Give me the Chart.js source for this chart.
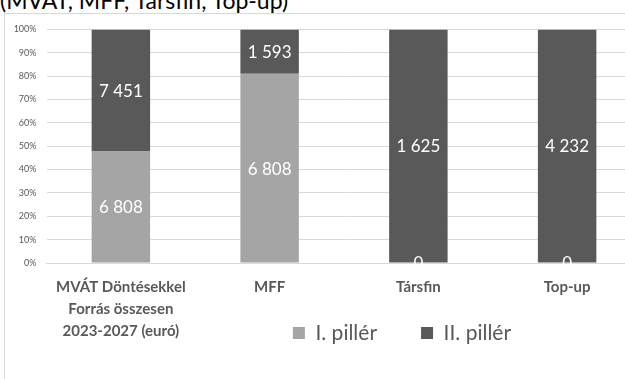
<!DOCTYPE html>
<html>
<head>
<meta charset="utf-8">
<script src="https://cdn.jsdelivr.net/npm/chart.js@4.4.0/dist/chart.umd.min.js"></script>
<style>
  html, body { margin: 0; padding: 0; background: #fff; overflow: hidden; width: 625px; height: 379px; }
  #title { position: absolute; left: 0; top: -11px; font: 23px Lato; line-height: 23px; color: #000; white-space: nowrap; }
  #frame { position: absolute; left: 4px; top: 13px; width: 700px; height: 430px; border-left: 1px solid #d9d9d9; border-top: 1px solid #d9d9d9; }
  #wrap { position: absolute; left: 0; top: 14px; width: 660px; height: 430px; }
</style>
</head>
<body>
<div id="title">(MVÁT, MFF, Társfin, Top-up)</div>
<div id="frame"></div>
<div id="wrap"><canvas id="chart" width="660" height="430"></canvas></div>
<script>
// categories and the two pillar amounts (euro)
const categories = [["MVÁT Döntésekkel", "Forrás összesen", "2023-2027 (euró)"], "MFF", "Társfin", "Top-up"];
const pillar1 = [6808, 6808, 0, 0];
const pillar2 = [7451, 1593, 1625, 4232];
const seriesNames = ["I. pillér", "II. pillér"];
const seriesColors = ["#a5a5a5", "#595959"];

// 100% stacked: convert amounts to shares of each column
const totals = pillar1.map(function (v, i) { return v + pillar2[i]; });
function toShare(arr) {
  return arr.map(function (v, i) { return totals[i] ? (v / totals[i]) * 100 : 0; });
}

function fmt(v) {
  return String(v).replace(/\B(?=(\d{3})+(?!\d))/g, " ");
}

// white value labels in the middle of every segment
const barLabels = {
  id: "barLabels",
  afterDatasetsDraw(chart) {
    const ctx = chart.ctx;
    ctx.save();
    ctx.font = "17px Lato";
    ctx.fillStyle = "#ffffff";
    ctx.textAlign = "center";
    ctx.textBaseline = "middle";
    chart.data.datasets.forEach(function (ds, di) {
      chart.getDatasetMeta(di).data.forEach(function (bar, i) {
        ctx.fillText(fmt(ds.raw[i]), bar.x, (bar.y + bar.base) / 2 + 1);
      });
    });
    ctx.restore();
  }
};

// legend sits beside the last line of the first category label
const legendSpot = {
  id: "legendSpot",
  afterLayout(chart) {
    const lg = chart.legend;
    const pad = lg.options.labels.padding;
    const size = lg.options.labels.font.size;
    const h = lg.height;
    lg.top = 319 - pad - size / 2;
    lg.bottom = lg.top + h;
    const d = 402 - (lg.left + lg.right) / 2;
    lg.left += d;
    lg.right += d;
  }
};

new Chart(document.getElementById("chart"), {
  type: "bar",
  data: {
    labels: categories,
    datasets: [
      { label: seriesNames[0], data: toShare(pillar1), raw: pillar1, backgroundColor: seriesColors[0] },
      { label: seriesNames[1], data: toShare(pillar2), raw: pillar2, backgroundColor: seriesColors[1] }
    ]
  },
  options: {
    responsive: false,
    animation: false,
    barPercentage: 1,
    categoryPercentage: 0.393,
    layout: { padding: { top: 12, right: 18.5, left: 0, bottom: 0 } },
    scales: {
      x: {
        stacked: true,
        grid: { display: false },
        border: { color: "#d9d9d9" },
        ticks: {
          color: "#595959",
          font: { family: "Lato", size: 15, weight: "bold", lineHeight: 1.47 },
          padding: 5,
          maxRotation: 0,
          autoSkip: false
        },
        afterFit: function (s) { s.height = 106; }
      },
      y: {
        stacked: true,
        min: 0,
        max: 100,
        grid: { color: "#d9d9d9", drawTicks: false },
        border: { display: false },
        ticks: {
          stepSize: 10,
          color: "#595959",
          font: { family: "Lato", size: 9 },
          padding: 10,
          callback: function (v) { return v + "%"; }
        },
        afterFit: function (s) { s.width = 46.5; }
      }
    },
    plugins: {
      legend: {
        position: "bottom",
        labels: {
          color: "#595959",
          font: { family: "Lato", size: 21 },
          boxWidth: 12,
          boxHeight: 12,
          padding: 44
        }
      },
      tooltip: { enabled: false }
    }
  },
  plugins: [barLabels, legendSpot]
});
</script>
</body>
</html>
